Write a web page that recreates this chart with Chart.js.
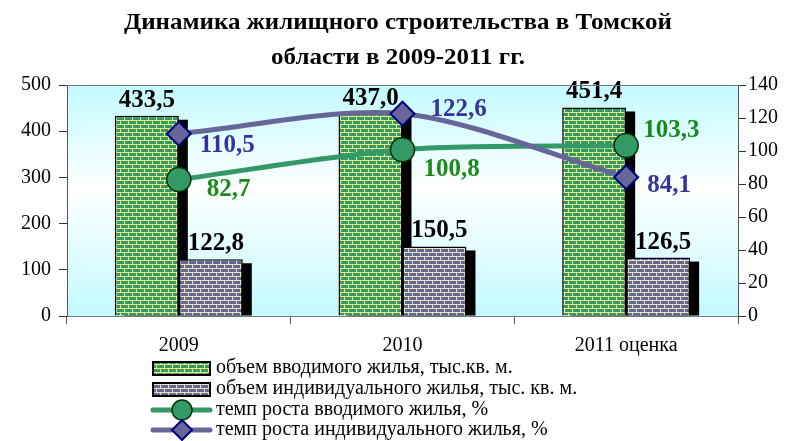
<!DOCTYPE html>
<html><head><meta charset="utf-8">
<script src="https://cdn.jsdelivr.net/npm/chart.js@4/dist/chart.umd.min.js"></script>
<style>html,body{margin:0;padding:0;background:#fff;}canvas{display:block;}</style>
</head><body>
<canvas id="c" width="794" height="441"></canvas>
<script>
const categories = ['2009', '2010', '2011 оценка'];
const totalHousing = [433.5, 437.0, 451.4];
const individualHousing = [122.8, 150.5, 126.5];
const totalGrowth = [82.7, 100.8, 103.3];
const individualGrowth = [110.5, 122.6, 84.1];
const leftTicks = [0, 100, 200, 300, 400, 500];
const rightTicks = [0, 20, 40, 60, 80, 100, 120, 140];
const titleLines = ['Динамика жилищного строительства в Томской', 'области в 2009-2011 гг.'];
const legendLabels = ['объем вводимого жилья, тыс.кв. м.', 'объем индивидуального жилья, тыс. кв. м.', 'темп роста вводимого жилья, %', 'темп роста индивидуального жилья, %'];

// label placement (style)
const barLabelDx = [[0,0,0],[5,5,5]];
const lineLabelOffsets = [
  [[28,10],[21,20],[17,-15]],
  [[21,12],[28,-4],[21,8]]
];

const SERIF = '"Liberation Serif", "Times New Roman", serif';
const fmt = v => v.toFixed(1).replace('.', ',');

function brick(base, mortar) {
  const c = document.createElement('canvas');
  c.width = 8; c.height = 8;
  const g = c.getContext('2d');
  g.fillStyle = base; g.fillRect(0,0,8,8);
  g.fillStyle = mortar;
  g.fillRect(0,0,8,1); g.fillRect(0,4,8,1);
  g.fillRect(0,0,1,4); g.fillRect(4,4,1,4);
  return g.createPattern(c, 'repeat');
}
const greenPat = brick('#339966', '#f0ea80');
const purplePat = brick('#666699', '#e8e8b4');

function drawCircle(ctx, x, y, r, fill, stroke, lw) {
  ctx.beginPath(); ctx.arc(x, y, r, 0, Math.PI * 2);
  ctx.fillStyle = fill; ctx.fill();
  ctx.strokeStyle = stroke; ctx.lineWidth = lw; ctx.stroke();
}
function drawDiamond(ctx, x, y, r, fill, stroke, lw) {
  ctx.beginPath(); ctx.moveTo(x, y - r); ctx.lineTo(x + r, y); ctx.lineTo(x, y + r); ctx.lineTo(x - r, y); ctx.closePath();
  ctx.fillStyle = fill; ctx.fill();
  ctx.strokeStyle = stroke; ctx.lineWidth = lw; ctx.stroke();
}

const bgPlugin = {
  id: 'bg',
  beforeDraw(chart) {
    const {ctx, chartArea: a} = chart;
    const g = ctx.createLinearGradient(0, a.top, 0, a.bottom);
    g.addColorStop(0, '#c2faff');
    g.addColorStop(0.45, '#ffffff');
    g.addColorStop(1, '#c2faff');
    ctx.save(); ctx.fillStyle = g; ctx.fillRect(a.left, a.top, a.right - a.left, a.bottom - a.top); ctx.restore();
  },
  afterDraw(chart) {
    const {ctx, chartArea: a} = chart;
    ctx.save();
    ctx.strokeStyle = '#7a7a7a'; ctx.lineWidth = 1;
    ctx.beginPath(); ctx.moveTo(a.left, a.top + 0.5); ctx.lineTo(a.right, a.top + 0.5); ctx.stroke();
    ctx.restore();
  }
};

const shadowPlugin = {
  id: 'shadow',
  beforeDatasetsDraw(chart) {
    const {ctx, chartArea: a} = chart;
    ctx.save();
    ctx.beginPath(); ctx.rect(a.left, a.top, a.right - a.left, a.bottom - a.top); ctx.clip();
    ctx.fillStyle = '#000';
    [0,1].forEach(di => {
      chart.getDatasetMeta(di).data.forEach(el => {
        const p = el.getProps(['x','y','base','width'], true);
        const top = p.y + 4;
        ctx.fillRect(p.x - p.width/2 + 9, top, p.width, p.base - top);
      });
    });
    ctx.restore();
  }
};

const labelPlugin = {
  id: 'labels',
  afterDatasetsDraw(chart) {
    const ctx = chart.ctx;
    ctx.save();
    ctx.font = 'bold 25px ' + SERIF;
    [0,1].forEach(di => {
      const meta = chart.getDatasetMeta(di);
      const vals = chart.data.datasets[di].data;
      meta.data.forEach((el, i) => {
        ctx.fillStyle = '#000';
        ctx.textAlign = 'center'; ctx.textBaseline = 'alphabetic';
        ctx.fillText(fmt(vals[i]), el.x + barLabelDx[di][i], el.y - 9);
      });
    });
    const colors = ['#1a8a1a', '#333399'];
    [2,3].forEach((di, k) => {
      const meta = chart.getDatasetMeta(di);
      const vals = chart.data.datasets[di].data;
      meta.data.forEach((el, i) => {
        const o = lineLabelOffsets[k][i];
        ctx.fillStyle = colors[k];
        ctx.textAlign = 'left'; ctx.textBaseline = 'middle';
        ctx.fillText(fmt(vals[i]), el.x + o[0], el.y + o[1]);
      });
    });
    ctx.restore();
  }
};

const titlePlugin = {
  id: 'customTitle',
  afterDraw(chart) {
    const ctx = chart.ctx;
    ctx.save();
    ctx.font = 'bold 24px ' + SERIF;
    ctx.fillStyle = '#000';
    ctx.textAlign = 'center'; ctx.textBaseline = 'middle';
    const w = ctx.measureText(titleLines[0]).width;
    const sx = 548 / w;
    [23, 58].forEach((y, i) => {
      ctx.save();
      ctx.translate(398, y); ctx.scale(sx, 1);
      ctx.fillText(titleLines[i], 0, 0);
      ctx.restore();
    });
    ctx.restore();
  }
};

const legendPlugin = {
  id: 'customLegend',
  afterDraw(chart) {
    const ctx = chart.ctx;
    const x0 = 153, x1 = 210, tx = 216, mx = 182;
    const rows = [368, 389, 410, 430];
    ctx.save();
    [greenPat, purplePat].forEach((p, i) => {
      const y = rows[i];
      ctx.fillStyle = p; ctx.fillRect(x0, y - 6, x1 - x0, 13);
      ctx.strokeStyle = '#000'; ctx.lineWidth = 2; ctx.strokeRect(x0, y - 6, x1 - x0, 13);
    });
    ctx.lineCap = 'round';
    ctx.strokeStyle = '#339966'; ctx.lineWidth = 5;
    ctx.beginPath(); ctx.moveTo(x0, rows[2]); ctx.lineTo(x1, rows[2]); ctx.stroke();
    drawCircle(ctx, mx, rows[2], 10, '#339966', '#003300', 1.5);
    ctx.strokeStyle = '#666699'; ctx.lineWidth = 5;
    ctx.beginPath(); ctx.moveTo(x0, rows[3]); ctx.lineTo(x1, rows[3]); ctx.stroke();
    drawDiamond(ctx, mx, rows[3], 10, '#666699', '#000080', 2);
    ctx.fillStyle = '#000';
    ctx.font = '20px ' + SERIF;
    ctx.textAlign = 'left'; ctx.textBaseline = 'middle';
    legendLabels.forEach((t, i) => ctx.fillText(t, tx, rows[i]));
    ctx.restore();
  }
};

new Chart(document.getElementById('c'), {
  data: {
    labels: categories,
    datasets: [
      { type: 'bar', label: legendLabels[0], data: totalHousing, yAxisID: 'y', backgroundColor: greenPat, borderColor: '#000', borderWidth: 1.5, categoryPercentage: 0.572, barPercentage: 1, order: 2 },
      { type: 'bar', label: legendLabels[1], data: individualHousing, yAxisID: 'y', backgroundColor: purplePat, borderColor: '#000', borderWidth: 1.5, categoryPercentage: 0.572, barPercentage: 1, order: 3 },
      { type: 'line', label: legendLabels[2], data: totalGrowth, yAxisID: 'y1', borderColor: '#339966', borderWidth: 5, tension: 0.3, pointStyle: 'circle', pointRadius: 12, pointBackgroundColor: '#339966', pointBorderColor: '#003300', pointBorderWidth: 1.5, order: 1 },
      { type: 'line', label: legendLabels[3], data: individualGrowth, yAxisID: 'y1', borderColor: '#666699', borderWidth: 5, tension: 0.3, pointStyle: 'rectRot', pointRadius: 12, pointBackgroundColor: '#666699', pointBorderColor: '#000080', pointBorderWidth: 2, order: 0 }
    ]
  },
  options: {
    responsive: false,
    animation: false,
    devicePixelRatio: 1,
    layout: { padding: { top: 85, left: 0, right: 0, bottom: 0 } },
    plugins: { legend: { display: false }, title: { display: false }, tooltip: { enabled: false } },
    scales: {
      x: {
        type: 'category', offset: true,
        grid: { display: true, drawOnChartArea: false, drawTicks: true, tickLength: 8, color: '#555', offset: true },
        border: { display: true, color: '#7a7a7a' },
        ticks: { font: { family: SERIF, size: 20 }, color: '#000', padding: 10 },
        afterFit(s) { s.height = 125; }
      },
      y: {
        position: 'left', min: 0, max: 500,
        afterBuildTicks(s) { s.ticks = leftTicks.map(v => ({value: v})); },
        grid: { display: true, drawOnChartArea: false, tickLength: 8, color: '#333' },
        border: { display: true, color: '#555' },
        ticks: { font: { family: SERIF, size: 20 }, color: '#000', padding: 8 },
        afterFit(s) { s.width = 67; }
      },
      y1: {
        position: 'right', min: 0, max: 140,
        afterBuildTicks(s) { s.ticks = rightTicks.map(v => ({value: v})); },
        grid: { display: true, drawOnChartArea: false, tickLength: 8, color: '#333' },
        border: { display: true, color: '#555' },
        ticks: { font: { family: SERIF, size: 20 }, color: '#000', padding: 2 },
        afterFit(s) { s.width = 56; }
      }
    }
  },
  plugins: [bgPlugin, shadowPlugin, labelPlugin, titlePlugin, legendPlugin]
});
</script>
</body></html>
